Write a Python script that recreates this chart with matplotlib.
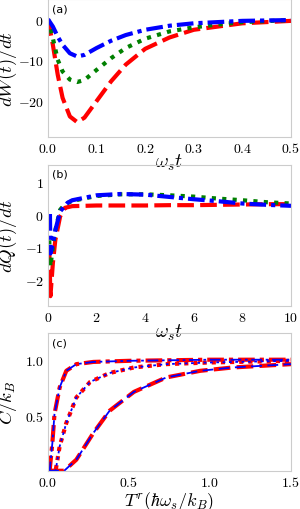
import matplotlib
matplotlib.use("Agg")
import matplotlib.pyplot as plt
import numpy as np

plt.rcParams['mathtext.fontset'] = 'cm'
plt.rcParams['font.family'] = 'DejaVu Sans'

# panel (a): dW/dt vs w_s t
t_a = [0.0, 0.01, 0.02, 0.03, 0.045, 0.06, 0.075, 0.1, 0.13, 0.16, 0.2, 0.25, 0.3, 0.35, 0.4, 0.5]
w_red = [0.0, -6.3, -13.7, -19.4, -24.0, -25.4, -24.3, -20.2, -15.3, -11.2, -7.3, -4.5, -2.6, -1.8, -1.0, -0.4]
w_green = [0.0, -4.7, -10.0, -12.9, -14.9, -15.5, -15.0, -12.5, -9.6, -7.1, -4.8, -3.0, -2.0, -1.3, -0.7, -0.2]
w_blue = [0.0, -1.8, -4.3, -6.3, -8.4, -9.2, -8.8, -7.1, -5.3, -3.9, -2.6, -1.6, -1.0, -0.7, -0.4, -0.2]

# panel (b): dQ/dt vs w_s t
t_b = [0.05, 0.1, 0.2, 0.3, 0.5, 0.7, 1, 2, 3, 4, 5, 6, 7, 8, 9, 10]
q_red = [-1.0, -2.5, -1.5, -0.8, -0.07, 0.19, 0.24, 0.26, 0.26, 0.26, 0.27, 0.27, 0.28, 0.29, 0.3, 0.3]
q_green = [-0.8, -1.6, -1.0, -0.5, 0.13, 0.3, 0.4, 0.55, 0.6, 0.6, 0.57, 0.53, 0.47, 0.42, 0.36, 0.32]
t_b_blue = [0.08, 0.1, 0.2, 0.3, 0.5, 0.8, 1, 2, 3, 4, 5, 6, 7, 8, 9, 10]
q_blue = [0.0, -1.2, -0.9, -0.5, 0.08, 0.34, 0.42, 0.57, 0.61, 0.59, 0.52, 0.45, 0.39, 0.32, 0.28, 0.25]

# panel (c): heat capacity vs T^r
T1 = [0.0, 0.01, 0.027, 0.04, 0.072, 0.113, 0.175, 0.28, 0.5, 1.0, 1.5]
c1 = [0.0, 0.0, 0.25, 0.51, 0.75, 0.9, 0.96, 0.98, 0.99, 1.0, 1.0]
T2 = [0.0, 0.047, 0.072, 0.113, 0.175, 0.26, 0.38, 0.53, 0.73, 1.0, 1.5]
c2 = [0.0, 0.0, 0.22, 0.43, 0.66, 0.8, 0.88, 0.93, 0.96, 0.975, 0.99]
T3 = [0.0, 0.1, 0.175, 0.28, 0.38, 0.53, 0.73, 0.94, 1.14, 1.5]
c3 = [0.0, 0.0, 0.1, 0.34, 0.54, 0.71, 0.84, 0.9, 0.93, 0.96]

fig = plt.figure(figsize=(3.0, 5.1), dpi=100)
ax1 = fig.add_axes([0.16, 0.73, 0.81, 0.27])
ax2 = fig.add_axes([0.16, 0.398, 0.81, 0.277])
ax3 = fig.add_axes([0.16, 0.075, 0.81, 0.27])

def style(ax):
    for s in ax.spines.values():
        s.set_color('#cccccc')
        s.set_linewidth(0.8)
    ax.tick_params(length=0, labelsize=10, pad=3)
    ax.patch.set_alpha(0)
    ax.yaxis.set_label_coords(-0.12, 0.5)

lw = 3.0
ax1.plot(t_a, w_red, color='red', ls=(0, (4, 1.5)), lw=lw)
ax1.plot(t_a, w_green, color='green', ls=(0, (1, 1.5)), lw=lw)
ax1.plot(t_a, w_blue, color='blue', ls=(0, (4, 1.2, 1, 1.2)), lw=lw)
ax1.set_xlim(0, 0.5)
ax1.set_ylim(-29, 5)
ax1.set_xticks([0.0, 0.1, 0.2, 0.3, 0.4, 0.5])
ax1.set_xticklabels([r'$0.0$', r'$0.1$', r'$0.2$', r'$0.3$', r'$0.4$', r'$0.5$'])
ax1.set_yticks([0, -10, -20])
ax1.set_yticklabels([r'$0$', r'$-10$', r'$-20$'])
ax1.set_xlabel(r'$\omega_s t$', fontsize=14, labelpad=-2)
ax1.set_ylabel(r'$dW(t)/dt$', fontsize=13.5)
ax1.text(0.015, 0.97, '(a)', transform=ax1.transAxes, fontsize=8, va='top')
style(ax1)

ax2.plot(t_b, q_red, color='red', ls=(0, (4, 1.5)), lw=lw)
ax2.plot(t_b, q_green, color='green', ls=(0, (1, 1.5)), lw=lw)
ax2.plot(t_b_blue, q_blue, color='blue', ls=(0, (4, 1.2, 1, 1.2)), lw=lw)
ax2.set_xlim(0, 10)
ax2.set_ylim(-2.8, 1.5)
ax2.set_xticks([0, 2, 4, 6, 8, 10])
ax2.set_xticklabels([r'$0$', r'$2$', r'$4$', r'$6$', r'$8$', r'$10$'])
ax2.set_yticks([1, 0, -1, -2])
ax2.set_yticklabels([r'$1$', r'$0$', r'$-1$', r'$-2$'])
ax2.set_xlabel(r'$\omega_s t$', fontsize=14, labelpad=-2)
ax2.set_ylabel(r'$dQ(t)/dt$', fontsize=13.5)
ax2.text(0.015, 0.97, '(b)', transform=ax2.transAxes, fontsize=8, va='top')
style(ax2)

ax3.plot(T1, c1, color='red', ls=(0, (4, 1.2, 1, 1.2)), lw=lw)
ax3.plot(T2, c2, color='red', ls=(0, (1, 1.2)), lw=lw)
ax3.plot(T3, c3, color='red', ls=(0, (4, 1.5)), lw=lw)
ax3.plot(T1, c1, color='blue', ls=(0, (6, 2, 1.5, 2)), lw=1.3)
ax3.plot(T2, c2, color='blue', ls=(0, (1.5, 2)), lw=1.3)
ax3.plot(T3, c3, color='blue', ls=(0, (6, 3)), lw=1.3)
ax3.set_xlim(0, 1.5)
ax3.set_ylim(0, 1.24)
ax3.set_xticks([0.0, 0.5, 1.0, 1.5])
ax3.set_xticklabels([r'$0.0$', r'$0.5$', r'$1.0$', r'$1.5$'])
ax3.set_yticks([0.5, 1.0])
ax3.set_yticklabels([r'$0.5$', r'$1.0$'])
ax3.set_xlabel(r'$T^r(\hbar\omega_s/k_B)$', fontsize=13, labelpad=0)
ax3.set_ylabel(r'$C/k_B$', fontsize=13.5)
ax3.text(0.015, 0.97, '(c)', transform=ax3.transAxes, fontsize=8, va='top')
style(ax3)

fig.savefig('out.png', dpi=100)
